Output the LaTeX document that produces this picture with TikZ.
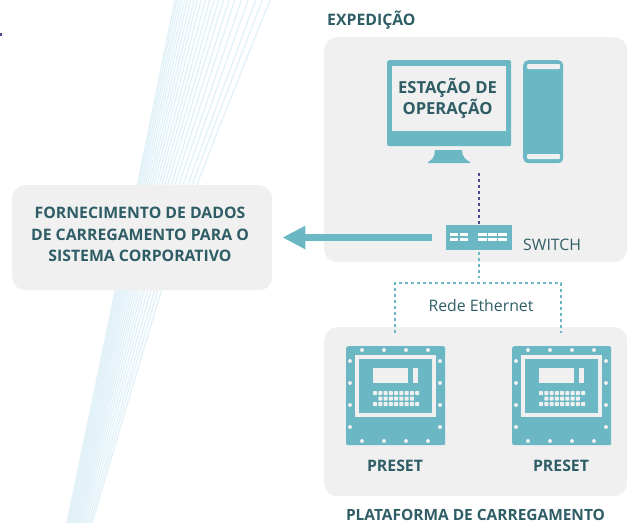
\documentclass[tikz,border=0pt]{standalone}
\usepackage{fontspec}
\setmainfont{Open Sans}
\usetikzlibrary{arrows.meta}
\definecolor{teal}{HTML}{6BB8C4}
\definecolor{panel}{HTML}{F0F0F0}
\definecolor{ink}{HTML}{2F5D66}
\definecolor{navy}{HTML}{4A4A8C}
\definecolor{fan}{HTML}{E3F2F8}
\tikzset{
  panelbox/.style={fill=panel,draw=none,rounded corners=13pt,inner sep=0pt,anchor=north west},
  headtext/.style={font=\bfseries\fontsize{15.8}{21.5}\selectfont,text=ink,align=center,inner sep=0pt},
  platetext/.style={font=\bfseries\fontsize{15.45}{21.5}\selectfont,text=ink,align=center,inner sep=0pt},
  screentext/.style={font=\bfseries\fontsize{16.6}{21.5}\selectfont,text=ink,align=center,inner sep=0pt},
  plaintext/.style={font=\fontsize{15.8}{20}\selectfont,text=ink,inner sep=0pt},
  tealfill/.style={fill=teal,draw=none},
  panelfill/.style={fill=panel,draw=none},
  portbar/.style={fill=white,draw=none},
  navydash/.style={draw=navy,line width=2pt,dash pattern=on 3pt off 3pt},
  linkdash/.style={draw=teal,line width=2pt,dash pattern=on 3pt off 3pt},
  bigarrow/.style={draw=teal,line width=7pt,-{Triangle[length=23pt,width=22pt]}},
}
\newcommand{\presetbox}[3]{%
  \node[tealfill,rounded corners=2pt,minimum width=99pt,minimum height=99pt,inner sep=0pt,anchor=north west] (#1) at (#2,#3) {};
  \begin{scope}[shift={(#2,#3)}]
    \fill[panelfill] (9,9) rectangle (90,71);
    \fill[tealfill] (13,13) rectangle (86,67);
    \fill[panelfill] (27,22) rectangle (62,37);
    \fill[panelfill] (67,22) rectangle (71.5,37);
    \foreach \cx in {16,38,60,82} {
      \fill[panelfill] (\cx,4) circle (2pt);
      \fill[panelfill] (\cx,95) circle (2pt);
    }
    \foreach \cy in {15,37,59,81} {
      \fill[panelfill] (4,\cy) circle (2pt);
      \fill[panelfill] (94,\cy) circle (2pt);
    }
    \foreach \k in {0,...,8} {
      \fill[panelfill,rounded corners=0.6pt] ({27+\k*5.27},45) rectangle ++(4,4);
      \fill[panelfill,rounded corners=0.6pt] ({27+\k*5.27},56) rectangle ++(4,4);
    }
    \foreach \k in {1,...,7} {
      \fill[panelfill,rounded corners=0.6pt] ({27+\k*5.27},50.5) rectangle ++(4,4);
    }
  \end{scope}
}
\begin{document}
\begin{tikzpicture}[x=1pt,y=-1pt]
\useasboundingbox (0,0) rectangle (628,523);
% fan of thin lines
\foreach \t in {0,0.02,0.045,0.07,0.1,0.13,0.165,0.2,0.235,0.275,0.32,0.365,0.41,0.46,0.51,0.57,0.63,0.7,0.77,0.85,0.92,1} {
  \draw[fan,line width=1.4pt] plot[smooth] coordinates {
    ({175+\t*95},0) ({138+\t*60},182) ({115+\t*46},292) ({67+\t*25},523)};
}
\fill[navy] (0,33) rectangle (2,36);
% panels
\node[panelbox,minimum width=303pt,minimum height=225pt] (exped) at (324,37) {};
\node[panelbox,minimum width=303pt,minimum height=169pt] (plat) at (324,327) {};
\node[panelbox,minimum width=260pt,minimum height=105pt] (corp) at (12,185) {};
\node[headtext] (corptext) at (140,234.5) {FORNECIMENTO DE DADOS\\DE CARREGAMENTO PARA O\\SISTEMA CORPORATIVO};
\node[headtext,anchor=west] (explabel) at (327,20) {EXPEDIÇÃO};
\node[platetext] (platlabel) at (475.5,514.5) {PLATAFORMA DE CARREGAMENTO};
% monitor
\node[tealfill,rounded corners=2pt,minimum width=124pt,minimum height=86pt,inner sep=0pt,anchor=north west] (monitor) at (387,60) {};
\node[panelfill,minimum width=114pt,minimum height=65pt,inner sep=0pt,anchor=north west] (screen) at (392,66) {};
\node[screentext] (screentxt) at (447.5,98.5) {ESTAÇÃO DE\\OPERAÇÃO};
\fill[tealfill] (435,150) -- (462,150) .. controls (462,157) and (466,160) .. (470,162) -- (470,163) -- (428,163) -- (428,162) .. controls (432,160) and (435,157) .. (435,150) -- cycle;
% tower
\node[tealfill,rounded corners=5pt,minimum width=40pt,minimum height=103pt,inner sep=0pt,anchor=north west] (tower) at (523,60) {};
\fill[panelfill,rounded corners=1pt] (527,64) rectangle (560,69);
\fill[panelfill,rounded corners=1pt] (527,154) rectangle (560,159);
% switch
\node[tealfill,minimum width=66pt,minimum height=25pt,inner sep=0pt,anchor=north west] (switch) at (446,225) {};
\foreach \px in {450,460,478.3,488.3,498.3} {
  \fill[portbar] (\px,232.7) rectangle ++(8.3,3.3);
  \fill[portbar] (\px,238.3) rectangle ++(8.3,2.9);
}
\node[plaintext,anchor=west] (swlabel) at (523,244.5) {SWITCH};
% connectors
\coordinate (moncable) at (479,173);
\draw[navydash] (moncable) -- (switch.north -| moncable);
\coordinate (swdown) at (479,252);
\coordinate (netjoin) at (479,278);
\draw[linkdash] (swdown) -- (netjoin);
\coordinate (netl) at (395,283);
\coordinate (netr) at (561,283);
\coordinate (netlb) at (395,333);
\coordinate (netrb) at (561,333);
\draw[linkdash] (netlb) -- (netl) -- (netr) -- (netrb);
\node[plaintext] (netlabel) at (481,306) {Rede Ethernet};
\draw[bigarrow,shorten <=14pt,shorten >=10pt] (switch.west |- 0,237.5) -- (corp.east |- 0,237.5);
% presets
\presetbox{presetA}{346}{346}
\presetbox{presetB}{512}{346}
\node[headtext] (labA) at (395,466) {PRESET};
\node[headtext] (labB) at (561,466) {PRESET};
\end{tikzpicture}
\end{document}
